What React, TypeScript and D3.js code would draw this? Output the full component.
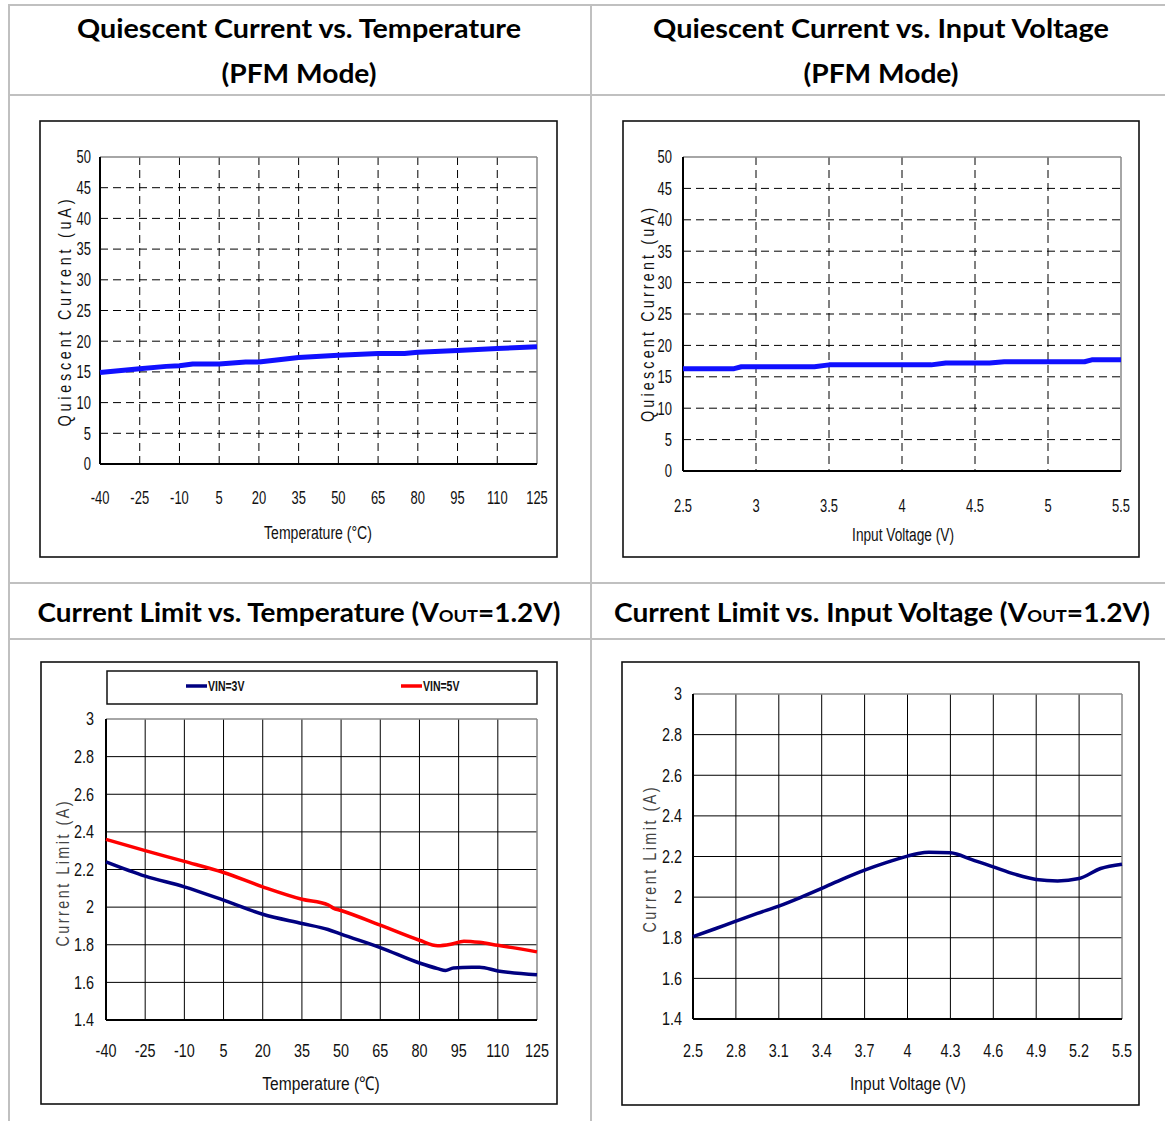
import React from "react";
import * as d3 from "d3";

// Quiescent current vs temperature (PFM mode), uA
const qTempX = [-40, -25, -15, -10, -5, 5, 15, 20, 35, 50, 65, 75, 80, 95, 110, 125];
const qTempY = [14.9, 15.5, 15.9, 16.0, 16.3, 16.3, 16.6, 16.6, 17.35, 17.7, 18.0, 18.0, 18.2, 18.5, 18.8, 19.1];

// Quiescent current vs input voltage (PFM mode), uA
const qVinX = [2.5, 2.85, 2.9, 3.4, 3.5, 4.2, 4.3, 4.6, 4.7, 5.25, 5.3, 5.5];
const qVinY = [16.3, 16.3, 16.6, 16.6, 16.9, 16.9, 17.2, 17.2, 17.4, 17.4, 17.7, 17.7];

// Current limit vs temperature, A
const clTempX3 = [-40, -25, -10, 5, 20, 35, 45, 50, 65, 80, 87, 90, 93, 100, 103, 110, 125];
const clTemp3 = [2.241, 2.165, 2.108, 2.037, 1.962, 1.913, 1.881, 1.856, 1.785, 1.703, 1.673, 1.663, 1.677, 1.68, 1.68, 1.661, 1.64];
const clTempX5 = [-40, -25, -10, 5, 20, 35, 45, 47, 50, 65, 80, 87, 92, 97, 103, 110, 115, 125];
const clTemp5 = [2.36, 2.3, 2.243, 2.184, 2.108, 2.042, 2.012, 1.995, 1.982, 1.904, 1.824, 1.795, 1.803, 1.819, 1.813, 1.797, 1.786, 1.762];

// Current limit vs input voltage, A
const clVinX = [2.5, 2.65, 2.8, 2.95, 3.1, 3.25, 3.4, 3.55, 3.7, 3.85, 4.0, 4.075, 4.15, 4.3, 4.45, 4.6, 4.75, 4.9, 5.05, 5.2, 5.35, 5.5];
const clVin = [1.805, 1.843, 1.882, 1.92, 1.956, 1.998, 2.043, 2.09, 2.133, 2.17, 2.202, 2.215, 2.221, 2.218, 2.185, 2.149, 2.113, 2.087, 2.08, 2.092, 2.141, 2.162];

// Tick values
const tempTicks = [-40, -25, -10, 5, 20, 35, 50, 65, 80, 95, 110, 125];
const vinTicksTop = [2.5, 3, 3.5, 4, 4.5, 5, 5.5];
const vinTicksBottom = [2.5, 2.8, 3.1, 3.4, 3.7, 4, 4.3, 4.6, 4.9, 5.2, 5.5];
const iqTicks = [0, 5, 10, 15, 20, 25, 30, 35, 40, 45, 50];
const ilimTicks = [1.4, 1.6, 1.8, 2, 2.2, 2.4, 2.6, 2.8, 3];

const W = 1165;
const H = 1121;
const NARROW = "'Liberation Sans', Arimo, Arial, sans-serif";
const TITLE_FONT = "Lato, 'Noto Sans', sans-serif";

// Horizontally condensed text (the axis lettering is a narrow face)
type CTextProps = {
  x: number;
  y: number;
  size: number;
  sx: number;
  anchor?: "start" | "middle" | "end";
  rotate?: number;
  fill?: string;
  weight?: number;
  len?: number;
  children: React.ReactNode;
};
function CText({ x, y, size, sx, anchor = "middle", rotate = 0, fill = "#111", weight = 400, len, children }: CTextProps) {
  return (
    <text
      transform={`translate(${x},${y}) rotate(${rotate}) scale(${sx},1)`}
      textAnchor={anchor}
      dy="0.35em"
      fontFamily={NARROW}
      fontSize={size}
      fontWeight={weight}
      fill={fill}
      textLength={len !== undefined ? len / sx : undefined}
      lengthAdjust={len !== undefined ? "spacing" : undefined}
    >
      {children}
    </text>
  );
}

type Series = { x: number[]; y: number[]; color: string; width: number; curve: d3.CurveFactory };

type PanelProps = {
  box: [number, number, number, number];
  plot: { l: number; r: number; t: number; b: number };
  xDomain: [number, number];
  yDomain: [number, number];
  xTicks: number[];
  yTicks: number[];
  dashed: boolean;
  series: Series[];
  xTitle: string;
  xTitleY: number;
  xTitleX: number;
  yTitle: string;
  yTitleX: number;
  yTitleY: number;
  yTitleLen: number;
  yTitleColor: string;
  xLabelDy: number;
  yLabelGap: number;
  tickSize: number;
  tickSx: number;
  titleSx: number;
  legend?: React.ReactNode;
};

function Panel(p: PanelProps) {
  const x = d3.scaleLinear().domain(p.xDomain).range([p.plot.l, p.plot.r]);
  const y = d3.scaleLinear().domain(p.yDomain).range([p.plot.b, p.plot.t]);
  const dash = p.dashed ? "8,5" : undefined;
  const [bx0, by0, bx1, by1] = p.box;
  return (
    <g>
      <rect x={bx0} y={by0} width={bx1 - bx0} height={by1 - by0} fill="#fff" stroke="#111" strokeWidth={1.6} />
      {p.legend}
      {/* grid */}
      {p.yTicks.slice(1, -1).map((v) => (
        <line key={"gy" + v} x1={p.plot.l} x2={p.plot.r} y1={y(v)} y2={y(v)} stroke="#000" strokeWidth={1} strokeDasharray={dash} />
      ))}
      {p.xTicks.slice(1, -1).map((v) => (
        <line key={"gx" + v} x1={x(v)} x2={x(v)} y1={p.plot.t} y2={p.plot.b} stroke="#000" strokeWidth={1} strokeDasharray={dash} />
      ))}
      {/* frame */}
      <line x1={p.plot.l} x2={p.plot.r} y1={p.plot.t} y2={p.plot.t} stroke="#888" strokeWidth={1.5} />
      <line x1={p.plot.r} x2={p.plot.r} y1={p.plot.t} y2={p.plot.b} stroke="#888" strokeWidth={1.5} />
      <line x1={p.plot.l} x2={p.plot.l} y1={p.plot.t} y2={p.plot.b} stroke="#000" strokeWidth={2} />
      <line x1={p.plot.l} x2={p.plot.r} y1={p.plot.b} y2={p.plot.b} stroke="#000" strokeWidth={2} />
      {/* series */}
      {p.series.map((s, i) => {
        const pts = s.x.map((xv, j) => [xv, s.y[j]] as [number, number]);
        const path = d3
          .line<[number, number]>()
          .x((d) => x(d[0]))
          .y((d) => y(d[1]))
          .curve(s.curve)(pts);
        return <path key={i} d={path || ""} fill="none" stroke={s.color} strokeWidth={s.width} strokeLinejoin="round" />;
      })}
      {/* tick labels */}
      {p.yTicks.map((v) => (
        <CText key={"ly" + v} x={p.plot.l - p.yLabelGap} y={y(v)} anchor="end" size={p.tickSize} sx={p.tickSx}>
          {String(v)}
        </CText>
      ))}
      {p.xTicks.map((v) => (
        <CText key={"lx" + v} x={x(v)} y={p.plot.b + p.xLabelDy} size={p.tickSize} sx={p.tickSx}>
          {String(v)}
        </CText>
      ))}
      {/* axis titles */}
      <CText x={p.xTitleX} y={p.xTitleY} size={19} sx={p.titleSx}>
        {p.xTitle}
      </CText>
      <CText x={p.yTitleX} y={p.yTitleY} size={18} sx={0.8} rotate={-90} fill={p.yTitleColor} len={p.yTitleLen}>
        {p.yTitle}
      </CText>
    </g>
  );
}

function Title({ x, y, len, children }: { x: number; y: number; len: number; children: React.ReactNode }) {
  return (
    <text x={x} y={y} textAnchor="middle" fontFamily={TITLE_FONT} fontWeight={700} fontSize={26} fill="#000" textLength={len} lengthAdjust="spacingAndGlyphs">
      {children}
    </text>
  );
}

export default function App() {
  const grey = "#c0c0c0";
  const legend = (
    <g>
      <rect x={107} y={671} width={430} height={33} fill="#fff" stroke="#111" strokeWidth={1.5} />
      <line x1={186} x2={207} y1={686} y2={686} stroke="#000080" strokeWidth={3.5} />
      <CText x={208} y={686} anchor="start" size={14} sx={0.75} weight={700}>VIN=3V</CText>
      <line x1={401} x2={422} y1={686} y2={686} stroke="#ff0000" strokeWidth={3.5} />
      <CText x={423} y={686} anchor="start" size={14} sx={0.75} weight={700}>VIN=5V</CText>
    </g>
  );
  return (
    <svg width={W} height={H} viewBox={`0 0 ${W} ${H}`} style={{ position: "absolute", left: 0, top: 0, background: "#fff" }}>
      <rect x={0} y={0} width={W} height={H} fill="#fff" />
      {/* table rules */}
      <line x1={9} x2={9} y1={4} y2={H} stroke={grey} strokeWidth={2} />
      <line x1={591} x2={591} y1={4} y2={H} stroke={grey} strokeWidth={2} />
      <line x1={8} x2={W} y1={5} y2={5} stroke={grey} strokeWidth={2} />
      <line x1={8} x2={W} y1={95} y2={95} stroke={grey} strokeWidth={2} />
      <line x1={8} x2={W} y1={583} y2={583} stroke={grey} strokeWidth={2} />
      <line x1={8} x2={W} y1={639} y2={639} stroke={grey} strokeWidth={2} />

      {/* headings */}
      <Title x={299} y={38} len={444}>Quiescent Current vs. Temperature</Title>
      <Title x={299} y={83} len={155}>(PFM Mode)</Title>
      <Title x={881} y={38} len={456}>Quiescent Current vs. Input Voltage</Title>
      <Title x={881} y={83} len={155}>(PFM Mode)</Title>
      <Title x={299} y={622} len={523}>
        Current Limit vs. Temperature (V<tspan fontSize={17}>OUT</tspan>=1.2V)
      </Title>
      <Title x={882} y={622} len={536}>
        Current Limit vs. Input Voltage (V<tspan fontSize={17}>OUT</tspan>=1.2V)
      </Title>

      <Panel
        box={[40, 121, 557, 557]}
        plot={{ l: 100, r: 537, t: 157, b: 464 }}
        xDomain={[-40, 125]}
        yDomain={[0, 50]}
        xTicks={tempTicks}
        yTicks={iqTicks}
        dashed
        series={[{ x: qTempX, y: qTempY, color: "#1010ff", width: 5, curve: d3.curveLinear }]}
        xTitle="Temperature (°C)"
        xTitleX={318}
        xTitleY={532}
        yTitle="Quiescent Current (uA)"
        yTitleX={65}
        yTitleY={313}
        yTitleLen={227}
        yTitleColor="#111"
        xLabelDy={34}
        yLabelGap={9}
        tickSize={18}
        tickSx={0.72}
        titleSx={0.74}
      />
      <Panel
        box={[623, 121, 1139, 557]}
        plot={{ l: 683, r: 1121, t: 157, b: 471 }}
        xDomain={[2.5, 5.5]}
        yDomain={[0, 50]}
        xTicks={vinTicksTop}
        yTicks={iqTicks}
        dashed
        series={[{ x: qVinX, y: qVinY, color: "#1010ff", width: 5, curve: d3.curveLinear }]}
        xTitle="Input Voltage (V)"
        xTitleX={903}
        xTitleY={534}
        yTitle="Quiescent Current (uA)"
        yTitleX={648}
        yTitleY={315}
        yTitleLen={214}
        yTitleColor="#111"
        xLabelDy={35}
        yLabelGap={11}
        tickSize={18}
        tickSx={0.72}
        titleSx={0.72}
      />
      <Panel
        box={[41, 662, 557, 1104]}
        plot={{ l: 106, r: 537, t: 719, b: 1020 }}
        xDomain={[-40, 125]}
        yDomain={[1.4, 3]}
        xTicks={tempTicks}
        yTicks={ilimTicks}
        dashed={false}
        series={[
          { x: clTempX3, y: clTemp3, color: "#000080", width: 3.5, curve: d3.curveMonotoneX },
          { x: clTempX5, y: clTemp5, color: "#ff0000", width: 3.5, curve: d3.curveMonotoneX },
        ]}
        xTitle="Temperature (℃)"
        xTitleX={321}
        xTitleY={1083}
        yTitle="Current Limit (A)"
        yTitleX={63}
        yTitleY={874}
        yTitleLen={145}
        yTitleColor="#444"
        xLabelDy={31}
        yLabelGap={12}
        tickSize={18}
        tickSx={0.8}
        titleSx={0.82}
        legend={legend}
      />
      <Panel
        box={[622, 662, 1139, 1105]}
        plot={{ l: 693, r: 1122, t: 694, b: 1019 }}
        xDomain={[2.5, 5.5]}
        yDomain={[1.4, 3]}
        xTicks={vinTicksBottom}
        yTicks={ilimTicks}
        dashed={false}
        series={[{ x: clVinX, y: clVin, color: "#000080", width: 3.5, curve: d3.curveMonotoneX }]}
        xTitle="Input Voltage (V)"
        xTitleX={908}
        xTitleY={1083}
        yTitle="Current Limit (A)"
        yTitleX={650}
        yTitleY={860}
        yTitleLen={145}
        yTitleColor="#444"
        xLabelDy={32}
        yLabelGap={11}
        tickSize={18}
        tickSx={0.8}
        titleSx={0.82}
      />
    </svg>
  );
}
